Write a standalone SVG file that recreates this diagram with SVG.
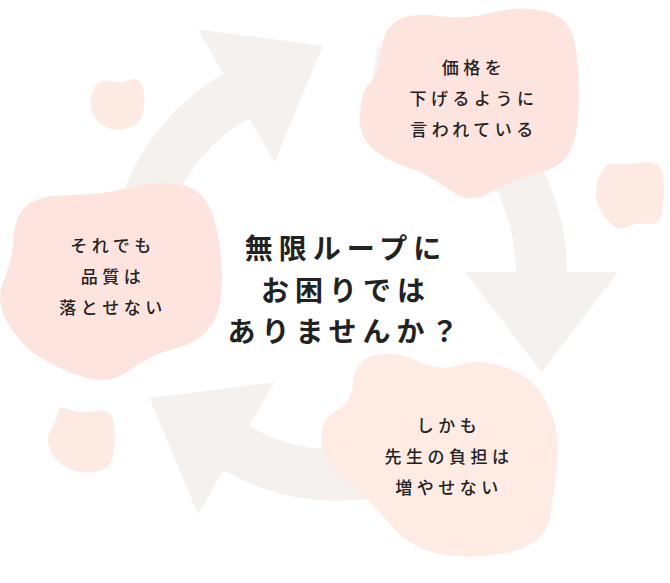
<svg xmlns="http://www.w3.org/2000/svg" width="670" height="583" viewBox="0 0 670 583">
<style>
.arrow{fill:#f4f1ef}
.blobA{fill:#fde4df}
.blobB{fill:#fdebe4}
.dot{fill:#fdebe3}
.t{font-family:"Noto Sans CJK JP","Noto Sans",sans-serif;font-size:17px;font-weight:500;fill:#222;letter-spacing:4.5px;text-anchor:middle}
.c{font-family:"Noto Sans CJK JP","Noto Sans",sans-serif;font-size:28px;font-weight:700;fill:#222;letter-spacing:6px;text-anchor:middle}
</style>
<rect width="670" height="583" fill="#ffffff"/>
<g id="connectors">
<path class="arrow" d="M 122.81,350.32 A 229 229 0 0 1 223.5,73.68 L 198,29.51 L 322.85,45.76 L 274.5,162.01 L 249,117.85 A 178 178 0 0 0 170.73,332.88 Z"/>
<path class="arrow" d="M 377.77,46.48 A 229 229 0 0 1 567,272 L 618,272 L 541.5,372 L 465,272 L 516,272 A 178 178 0 0 0 368.91,96.7 Z"/>
<path class="arrow" d="M 513.42,419.2 A 229 229 0 0 1 223.5,470.32 L 198,514.49 L 149.65,398.24 L 274.5,381.99 L 249,426.15 A 178 178 0 0 0 474.36,386.42 Z"/>
</g>
<g id="dots">
<path class="dot" d="M 108,81 Q 118,84 129,80 Q 140,76 143,88 Q 146,100 143,112 Q 140,124 129,128 Q 118,132 108,128 Q 98,124 93,114 Q 88,104 93,91 Q 98,78 108,81 Z"/>
<path class="dot" d="M 615,163.5 Q 625,165 643.5,162.5 Q 662,160 663.5,177.5 Q 665,195 662.5,210.5 Q 660,226 647.5,224 Q 635,222 626.5,227 Q 618,232 609,222 Q 600,212 597,201 Q 594,190 599.5,176 Q 605,162 615,163.5 Z"/>
<path class="dot" d="M 69,409.5 Q 80,414 96,411 Q 112,408 114,424 Q 116,440 113,455 Q 110,470 95,472 Q 80,474 67.5,468 Q 55,462 50,450 Q 45,438 50.5,431 Q 56,424 57,414.5 Q 58,405 69,409.5 Z"/>
</g>
<g id="node-price">
<path class="blobA" d="M 396.5,21 Q 410,12 437.5,16 Q 465,20 492.5,12.5 Q 520,5 546,11.5 Q 572,18 576,49 Q 580,80 578.5,110 Q 577,140 568.5,154 Q 560,168 535,174 Q 510,180 490,192.5 Q 470,205 450,190 Q 430,175 407.5,167.5 Q 385,160 371.5,147.5 Q 358,135 360,112.5 Q 362,90 370,82.5 Q 378,75 380.5,52.5 Q 383,30 396.5,21 Z"/>
<text class="t" x="474" y="74">価格を</text>
<text class="t" x="474" y="105">下げるように</text>
<text class="t" x="474" y="136">言われている</text>
</g>
<g id="node-quality">
<path class="blobA" d="M 27.5,205 Q 40,195 70,195 Q 100,195 130,187.5 Q 160,180 182.5,185 Q 205,190 213.5,217.5 Q 222,245 222,277.5 Q 222,310 211,326 Q 200,342 175,348.5 Q 150,355 130,370 Q 110,385 85,377.5 Q 60,370 40,357.5 Q 20,345 7.5,322.5 Q -5,300 3.5,281 Q 12,262 13.5,238.5 Q 15,215 27.5,205 Z"/>
<text class="t" x="113" y="252">それでも</text>
<text class="t" x="113" y="283">品質は</text>
<text class="t" x="113" y="314">落とせない</text>
</g>
<g id="node-burden">
<path class="blobB" d="M 375,355 Q 395,350 417.5,361 Q 440,372 460,365 Q 480,358 507.5,368 Q 535,378 547.5,404 Q 560,430 557.5,460 Q 555,490 550,517.5 Q 545,545 507.5,552.5 Q 470,560 440,554 Q 410,548 390,524 Q 370,500 346,480 Q 322,460 321,440 Q 320,420 336,411 Q 352,402 353.5,381 Q 355,360 375,355 Z"/>
<text class="t" x="449" y="432">しかも</text>
<text class="t" x="449" y="463">先生の負担は</text>
<text class="t" x="449" y="494">増やせない</text>
</g>
<g id="node-center">
<text class="c" x="346" y="259">無限ループに</text>
<text class="c" x="346" y="301">お困りでは</text>
<text class="c" x="346" y="342">ありませんか？</text>
</g>
</svg>
